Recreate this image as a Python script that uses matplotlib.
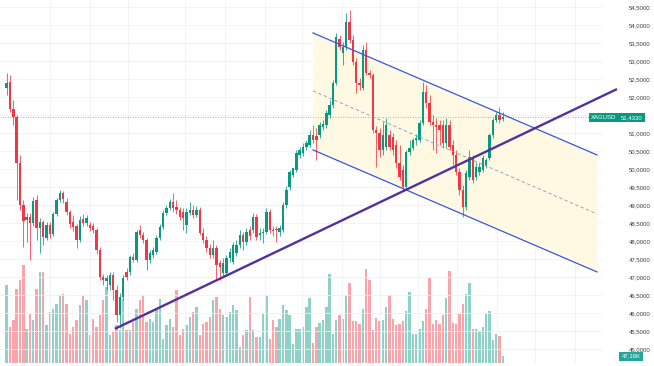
import matplotlib
matplotlib.use("Agg")
import matplotlib.pyplot as plt
from matplotlib.transforms import blended_transform_factory

# XAGUSD daily candles
opens = [52.25, 52.42, 51.67, 51.44, 50.17, 49.00, 48.58, 48.67, 48.50, 49.14,
         48.36, 48.53, 48.08, 48.44, 48.19, 48.75, 49.14, 49.33, 49.08, 48.81,
         48.53, 48.42, 48.03, 48.61, 48.50, 48.44, 48.42, 48.31, 47.75, 47.00,
         46.89, 46.78, 47.06, 46.64, 45.94, 46.44, 47.14, 47.14, 47.56, 47.47,
         48.31, 48.17, 48.03, 47.47, 47.61, 47.69, 48.08, 48.39, 48.78, 48.92,
         49.08, 48.94, 48.86, 48.81, 48.44, 48.78, 48.86, 48.72, 48.86, 48.22,
         48.03, 47.81, 47.61, 47.81, 47.39, 47.11, 47.11, 47.53, 47.42, 47.67,
         47.89, 48.17, 47.97, 48.31, 48.31, 48.67, 48.17, 48.22, 48.25, 48.81,
         48.31, 48.31, 48.25, 48.31, 49.00, 49.50, 49.83, 49.97, 50.39, 50.44,
         50.61, 50.67, 50.94, 50.92, 50.94, 51.17, 51.22, 51.50, 51.78, 52.39,
         53.61, 53.22, 53.39, 54.08, 53.58, 52.97, 52.39, 52.25, 53.31, 52.67,
         52.61, 51.08, 51.00, 50.53, 50.61, 50.94, 50.89, 50.67, 50.17, 49.97,
         49.50, 50.47, 50.58, 50.81, 50.81, 51.28, 52.14, 51.83, 51.31, 51.22,
         51.22, 51.22, 50.72, 51.22, 50.67, 50.39, 49.92, 49.42, 48.94, 49.78,
         50.31, 49.78, 49.92, 49.97, 50.11, 50.31, 50.94, 51.36, 51.50, 51.39]
highs = [52.67, 52.61, 51.92, 51.50, 50.39, 49.14, 48.78, 48.78, 49.22, 49.28,
         48.64, 48.58, 48.53, 48.53, 48.81, 49.19, 49.42, 49.39, 49.19, 48.86,
         48.72, 48.47, 48.69, 48.75, 48.72, 48.53, 48.50, 48.36, 47.83, 47.08,
         47.06, 47.14, 47.14, 46.78, 46.56, 47.06, 47.25, 47.61, 47.67, 48.31,
         48.44, 48.25, 48.08, 47.75, 47.83, 48.17, 48.47, 48.86, 49.00, 49.17,
         49.33, 49.14, 48.94, 48.92, 48.92, 49.08, 49.00, 48.97, 48.94, 48.36,
         48.14, 47.92, 48.03, 47.89, 47.47, 47.53, 47.61, 47.81, 47.97, 48.03,
         48.31, 48.25, 48.36, 48.42, 48.78, 48.75, 48.36, 48.36, 48.92, 48.89,
         48.42, 48.42, 48.44, 49.08, 49.53, 49.97, 50.03, 50.53, 50.61, 50.72,
         50.81, 51.08, 51.22, 51.14, 51.31, 51.36, 51.64, 51.92, 52.47, 53.78,
         53.72, 53.53, 54.33, 54.42, 53.72, 53.08, 52.53, 53.44, 53.53, 52.75,
         52.67, 51.19, 51.14, 51.31, 51.42, 51.08, 51.00, 50.81, 50.67, 50.11,
         50.53, 50.81, 50.86, 50.97, 51.36, 52.42, 52.33, 52.06, 51.50, 51.42,
         51.36, 51.36, 51.42, 51.36, 50.81, 50.53, 50.03, 49.56, 49.97, 50.53,
         50.39, 50.19, 50.17, 50.39, 50.31, 51.00, 51.42, 51.58, 51.72, 51.58]
lows = [52.06, 51.58, 51.22, 49.14, 48.86, 47.83, 47.97, 47.47, 48.42, 48.03,
        47.67, 47.89, 48.03, 48.08, 48.14, 48.69, 49.08, 49.06, 48.72, 48.36,
        48.28, 47.81, 47.97, 48.42, 48.42, 48.28, 48.22, 47.64, 46.92, 46.78,
        46.64, 46.64, 46.36, 45.75, 45.58, 46.36, 46.92, 47.06, 47.42, 47.42,
        48.08, 47.94, 47.19, 47.39, 47.53, 47.64, 48.03, 48.33, 48.72, 48.86,
        48.81, 48.75, 48.58, 48.31, 48.22, 48.72, 48.64, 48.67, 48.17, 47.94,
        47.69, 47.53, 47.53, 46.92, 46.92, 47.00, 47.03, 47.42, 47.36, 47.58,
        47.81, 47.75, 47.89, 48.03, 48.22, 48.03, 48.03, 47.94, 48.19, 48.22,
        48.14, 47.97, 48.14, 48.25, 48.92, 49.42, 49.78, 49.92, 50.31, 50.36,
        50.53, 50.61, 50.72, 50.25, 50.86, 51.08, 51.14, 51.42, 51.69, 52.33,
        53.31, 52.89, 53.31, 53.50, 52.89, 52.11, 52.19, 52.19, 52.61, 52.53,
        51.00, 50.06, 50.33, 50.39, 50.53, 50.53, 50.39, 50.03, 49.69, 49.42,
        49.42, 50.39, 50.53, 50.67, 50.75, 51.22, 51.69, 51.22, 50.53, 50.44,
        50.67, 50.58, 50.58, 50.53, 50.11, 49.83, 49.28, 48.67, 48.86, 49.69,
        49.61, 49.69, 49.83, 49.92, 50.03, 50.25, 50.86, 51.31, 51.28, 51.33]
closes = [52.39, 51.67, 51.44, 50.17, 49.00, 48.56, 48.67, 48.50, 49.11, 48.36,
          48.53, 48.11, 48.44, 48.19, 48.75, 49.14, 49.33, 49.17, 48.81, 48.47,
          48.39, 48.03, 48.58, 48.50, 48.64, 48.36, 48.31, 47.75, 47.00, 46.92,
          46.97, 47.06, 46.64, 45.94, 46.44, 46.97, 47.00, 47.56, 47.47, 48.25,
          48.17, 48.03, 47.47, 47.67, 47.75, 48.08, 48.39, 48.78, 48.92, 49.08,
          48.92, 48.86, 48.67, 48.64, 48.81, 48.86, 48.72, 48.86, 48.22, 48.03,
          47.81, 47.61, 47.81, 47.33, 47.28, 47.39, 47.53, 47.69, 47.89, 47.89,
          48.17, 47.97, 48.25, 48.14, 48.67, 48.11, 48.22, 48.25, 48.81, 48.31,
          48.28, 48.30, 48.36, 49.00, 49.42, 49.92, 50.03, 50.44, 50.53, 50.61,
          50.72, 50.94, 50.81, 50.81, 51.22, 51.25, 51.56, 51.78, 52.39, 53.67,
          53.39, 53.39, 54.08, 53.58, 52.97, 52.39, 52.33, 53.31, 52.67, 52.61,
          51.08, 51.00, 50.53, 50.94, 51.22, 50.61, 50.53, 50.17, 49.78, 49.50,
          50.47, 50.58, 50.81, 50.86, 51.28, 52.14, 51.83, 51.31, 51.22, 51.17,
          51.08, 50.72, 51.22, 50.61, 50.39, 49.92, 49.42, 48.94, 49.89, 50.33,
          49.69, 50.06, 50.06, 50.31, 50.25, 50.94, 51.36, 51.50, 51.36, 51.433]
# volume in thousands
volumes = [544, 252, 299, 521, 579, 684, 241, 346, 299, 521,
           637, 637, 264, 357, 381, 416, 474, 486, 416, 206,
           252, 299, 404, 474, 439, 194, 311, 252, 334, 439,
           532, 194, 217, 264, 229, 451, 229, 229, 287, 381,
           439, 474, 287, 311, 287, 381, 451, 171, 264, 311,
           252, 509, 194, 241, 264, 322, 357, 392, 194, 276,
           287, 322, 439, 462, 381, 334, 322, 357, 404, 369,
           112, 194, 229, 462, 229, 182, 182, 346, 474, 171,
           299, 252, 311, 409, 369, 334, 136, 241, 241, 252,
           392, 458, 140, 252, 280, 299, 392, 626, 201, 299,
           334, 311, 474, 560, 294, 294, 271, 381, 661, 584,
           229, 318, 294, 304, 392, 479, 311, 264, 276, 294,
           364, 497, 206, 206, 241, 292, 381, 598, 271, 304,
           276, 334, 458, 644, 280, 276, 346, 416, 486, 563,
           241, 241, 222, 252, 341, 364, 159, 201, 192, 47.16]

# drawings: (bar index, price)
channel_top = [(92.0, 53.78), (177.3, 50.39)]
channel_mid = [(92.0, 52.17), (177.3, 48.75)]
channel_bot = [(92.0, 50.53), (177.3, 47.14)]
trend_line = [(32.5, 45.56), (183.3, 52.22)]
date_grid = [13.0, 25.0, 36.4, 53.5, 65.6, 77.6, 88.7, 100.7, 112.1,
             123.5, 135.2, 147.2, 158.6, 170.7]
price_ticks = [45.0 + 0.5 * k for k in range(20)]
last_price = 51.433

UP, DOWN = "#089981", "#f23645"

plt.rcParams['font.family'] = ['Liberation Sans', 'DejaVu Sans']
fig = plt.figure(figsize=(6.54, 3.66), dpi=100)
fig.patch.set_facecolor("white")
ax = fig.add_axes([0, 3 / 366, 602 / 654, 363 / 366])
ax2 = ax.twinx()
ax.set_zorder(1)
ax.patch.set_visible(False)

n = len(closes)
xs = list(range(n))
up = [c >= o for o, c in zip(opens, closes)]
cols = [UP if u else DOWN for u in up]

# volume
ax2.bar(xs, volumes, width=0.72, color=cols, alpha=0.45, linewidth=0)
ax2.set_ylim(0, 2540)
ax2.axis("off")

# grid
for p in price_ticks:
    ax.axhline(p, color="#eef1f7", lw=0.6, zorder=0)
for g in date_grid:
    ax.axvline(g, color="#eef1f7", lw=0.6, zorder=0)

# channel
(x0, t0), (x1, t1) = channel_top
(_, b0), (_, b1) = channel_bot
ax.fill_between([x0, x1], [t0, t1], [b0, b1], color="#fff9e3", lw=0, zorder=1)
for line in (channel_top, channel_bot):
    ax.plot([line[0][0], line[1][0]], [line[0][1], line[1][1]], color="#3a56e0", lw=0.9, zorder=4)
ax.plot([channel_mid[0][0], channel_mid[1][0]], [channel_mid[0][1], channel_mid[1][1]],
        color="#8c93b0", lw=0.6, ls=(0, (4, 3)), zorder=4)

# candles
ax.vlines(xs, lows, highs, colors=cols, lw=0.55, zorder=3)
bottoms = [min(o, c) for o, c in zip(opens, closes)]
heights = [max(abs(c - o), 0.02) for o, c in zip(opens, closes)]
ax.bar(xs, heights, bottom=bottoms, width=0.72, color=cols, linewidth=0, zorder=3)

# trend line
ax.plot([trend_line[0][0], trend_line[1][0]], [trend_line[0][1], trend_line[1][1]],
        color="#52309f", lw=1.7, solid_capstyle="butt", zorder=5, clip_on=False)

# last price line
ax.axhline(last_price, color=UP, lw=0.6, ls=(0, (1, 2)), alpha=0.7, zorder=2)

ax.set_xlim(-2.0, 178.8)
ax.set_ylim(54.694 - 363 / 36, 54.694)
ax.set_xticks([])
ax.yaxis.tick_right()
ax.set_yticks([p for p in price_ticks if p != 51.5])
ax.set_yticklabels([f"{p:.4f}".replace(".", ",") for p in price_ticks if p != 51.5])
ax.tick_params(axis="y", length=0, pad=19, labelsize=4.3, labelcolor="#3a3e48")
for s in ax.spines.values():
    s.set_visible(False)

# right side labels
tr = blended_transform_factory(fig.transFigure, ax.transData)
fig.text(604 / 654, last_price, "XAGUSD", transform=tr, ha="center", va="center", fontsize=4.3,
         color="white", bbox=dict(boxstyle="square,pad=0.35", fc=UP, ec="none"))
fig.text(632 / 654, last_price, f"{last_price:.4f}".replace(".", ","), transform=tr, ha="center",
         va="center", fontsize=4.3, color="white",
         bbox=dict(boxstyle="square,pad=0.35", fc=UP, ec="none"))
tr2 = blended_transform_factory(fig.transFigure, ax2.transData)
fig.text(631 / 654, volumes[-1], f"{volumes[-1]:.2f}K".replace(".", ","), transform=tr2,
         ha="center", va="center", fontsize=4.3, color="white",
         bbox=dict(boxstyle="square,pad=0.35", fc="#26a69a", ec="none"))

fig.savefig("out.png", dpi=100)
